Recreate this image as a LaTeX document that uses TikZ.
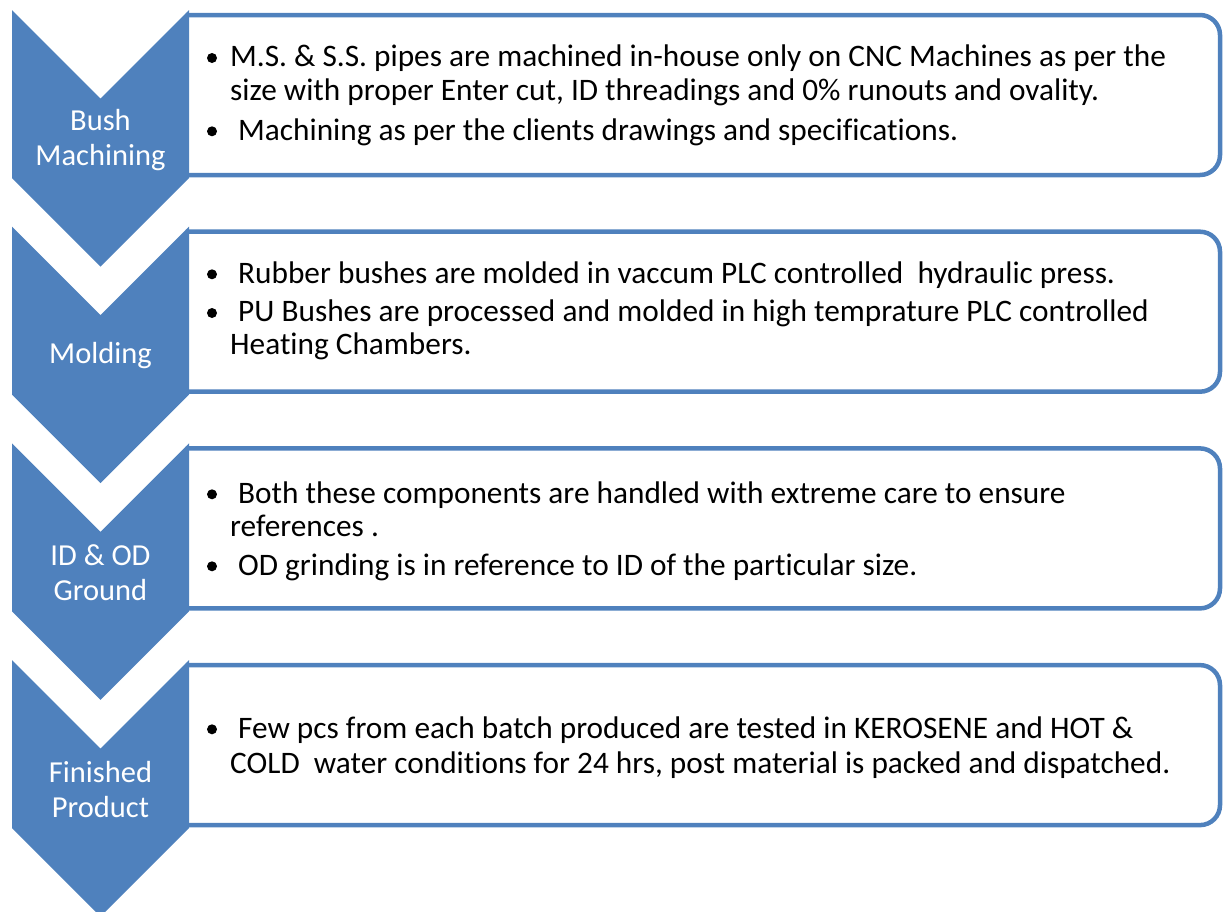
\documentclass[tikz,border=0pt]{standalone}
\usepackage{fontspec}
\setmainfont{Carlito}[Ligatures=NoCommon]
\definecolor{cblue}{HTML}{4F81BD}
\newcommand{\bodyfnt}{\fontsize{31.3}{33.3}\selectfont}
\newcommand{\labfnt}{\fontsize{30.5}{35}\selectfont}
\tikzset{
  chev/.style={fill=cblue, draw=none},
  stepbox/.style={draw=cblue, line width=4.5pt, fill=white, rounded corners=20pt, line cap=rect},
  body/.style={anchor=base west, inner sep=0pt, font=\bodyfnt, text=black},
  bul/.style={circle, fill=black, inner sep=0pt, minimum size=10pt},
  lab/.style={text=white, font=\labfnt, align=center, inner sep=0pt}
}
\begin{document}
\begin{tikzpicture}[x=1pt,y=-1pt]
\useasboundingbox (0,0) rectangle (1223,911);
\clip (0,0) rectangle (1223,911);
% boxes
\foreach \t in {0,216.7,433.4,650.1}{
  \draw[stepbox] (188,15+\t) -- (1220,15+\t) -- (1220,175+\t) -- (188,175+\t);
}
% chevrons
\foreach \t in {0,216.7,433.4,650.1}{
  \fill[chev] (12,10+\t) -- (100.5,98.5+\t) -- (189,10+\t) -- (189,178+\t) -- (100.5,266.5+\t) -- (12,178+\t) -- cycle;
}
% chevron labels
\node[lab] (l1) at (100.5,140) {Bush\\Machining};
\node[lab] (l2) at (100.5,356) {Molding};
\node[lab] (l3) at (100.5,573) {ID \& OD\\Ground};
\node[lab] (l4) at (100.5,790) {Finished\\Product};
% box 1
\node[bul] (b1a) at (212,58) {};
\node[body] (t1a) at (230,66.7) {M.S. \& S.S. pipes are machined in-house only on CNC Machines as per the};
\node[body] (t1b) at (230,100) {size with proper Enter cut, ID threadings and 0\% runouts and ovality.};
\node[bul] (b1b) at (212,131.3) {};
\node[body] (t1c) at (238,140) {Machining as per the clients drawings and specifications.};
% box 2
\node[bul] (b2a) at (212,274.3) {};
\node[body] (t2a) at (238,283) {Rubber bushes are molded in vaccum PLC controlled \ hydraulic press.};
\node[bul] (b2b) at (212,313) {};
\node[body] (t2b) at (238,321.7) {PU Bushes are processed and molded in high temprature PLC controlled};
\node[body] (t2c) at (230,354) {Heating Chambers.};
% box 3
\node[bul] (b3a) at (212,494.3) {};
\node[body] (t3a) at (238,503) {Both these components are handled with extreme care to ensure};
\node[body] (t3b) at (230,536) {references .};
\node[bul] (b3b) at (212,566.3) {};
\node[body] (t3c) at (238,575) {OD grinding is in reference to ID of the particular size.};
% box 4
\node[bul] (b4a) at (212,729.3) {};
\node[body] (t4a) at (238,738) {Few pcs from each batch produced are tested in KEROSENE and HOT \&};
\node[body] (t4b) at (230,773) {COLD \ water conditions for 24 hrs, post material is packed and dispatched.};
\end{tikzpicture}
\end{document}
